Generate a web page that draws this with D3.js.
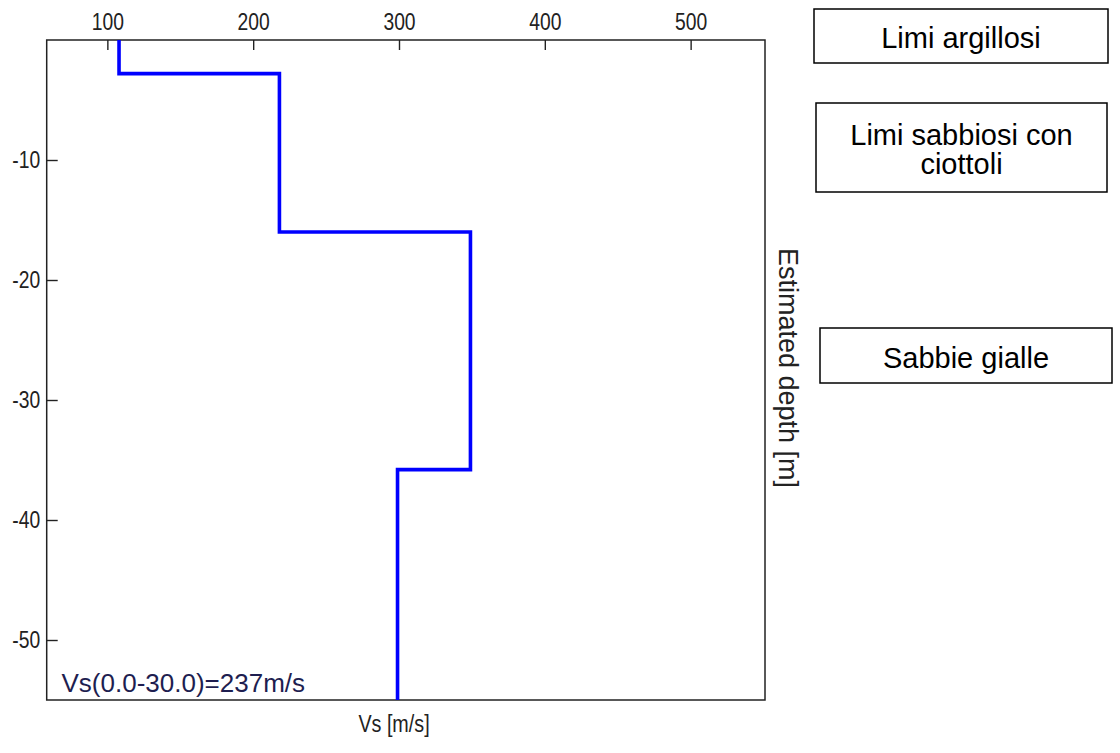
<!DOCTYPE html>
<html>
<head>
<meta charset="utf-8">
<script src="https://cdn.jsdelivr.net/npm/d3@7"></script>
<style>
  html, body { margin: 0; padding: 0; background: #fff; }
  svg { display: block; }
  .tick text { font-family: "Liberation Sans", Arial, sans-serif; font-size: 23px; fill: #222; }
</style>
</head>
<body>
<svg id="chart" width="1120" height="753"></svg>
<script>
// Data
const layerTops    = [0, -2.8, -16, -35.8];
const layerBottoms = [-2.8, -16, -35.8, -55];
const layerVs      = [108, 218, 349, 299];
const xTickValues  = [100, 200, 300, 400, 500];
const yTickValues  = [-10, -20, -30, -40, -50];
const xDomain      = [58.4, 551];
const yDomain      = [0, -55];
const lithoLabels  = [["Limi argillosi"], ["Limi sabbiosi con", "ciottoli"], ["Sabbie gialle"]];
const vs30Label    = "Vs(0.0-30.0)=237m/s";
const xTitle       = "Vs [m/s]";
const yTitle       = "Estimated depth [m]";

const svg = d3.select("#chart");
const pLeft = 46.7, pRight = 765, pTop = 40, pBottom = 700;
const narrow = 0.84;

const x = d3.scaleLinear().domain(xDomain).range([pLeft, pRight]);
const y = d3.scaleLinear().domain(yDomain).range([pTop, pBottom]);

// Top axis
const xAxis = svg.append("g")
  .attr("transform", `translate(0,${pTop})`)
  .call(d3.axisTop(x).tickValues(xTickValues).tickFormat(d => String(d))
    .tickSizeInner(-10).tickSizeOuter(0).tickPadding(10.5));
xAxis.select(".domain").remove();
xAxis.selectAll(".tick line").attr("stroke", "#222").attr("stroke-width", 1.4);
xAxis.selectAll(".tick text").attr("transform", `scale(${narrow},1)`);

// Left axis
const yPad = 6.5;
const yAxis = svg.append("g")
  .attr("transform", `translate(${pLeft},0)`)
  .call(d3.axisLeft(y).tickValues(yTickValues).tickFormat(d => String(d))
    .tickSizeInner(-11).tickSizeOuter(0).tickPadding(yPad));
yAxis.select(".domain").remove();
yAxis.selectAll(".tick line").attr("stroke", "#222").attr("stroke-width", 1.4);
yAxis.selectAll(".tick text")
  .attr("x", -yPad / narrow)
  .attr("transform", `scale(${narrow},1)`);

// Frame
svg.append("rect")
  .attr("x", pLeft).attr("y", pTop)
  .attr("width", pRight - pLeft).attr("height", pBottom - pTop)
  .attr("fill", "none").attr("stroke", "#222").attr("stroke-width", 1.5);

// Step profile
const pts = [];
layerVs.forEach((v, i) => {
  pts.push([v, layerTops[i]]);
  pts.push([v, layerBottoms[i]]);
});
svg.append("path")
  .datum(pts)
  .attr("fill", "none")
  .attr("stroke", "#0000ff")
  .attr("stroke-width", 3.6)
  .attr("stroke-linejoin", "miter")
  .attr("d", d3.line().x(d => x(d[0])).y(d => y(d[1])));

// Vs30 label
svg.append("text")
  .attr("x", 61.5).attr("y", 691.5)
  .attr("font-family", "Liberation Sans, Arial, sans-serif")
  .attr("font-size", 26)
  .attr("fill", "#1e1e50")
  .text(vs30Label);

// X title
svg.append("text")
  .attr("transform", `translate(394,732) scale(${narrow},1)`)
  .attr("text-anchor", "middle")
  .attr("font-family", "Liberation Sans, Arial, sans-serif")
  .attr("font-size", 23.5)
  .attr("fill", "#222")
  .text(xTitle);

// Y title (right, rotated clockwise)
svg.append("text")
  .attr("transform", `translate(779,368) rotate(90)`)
  .attr("text-anchor", "middle")
  .attr("font-family", "Liberation Sans, Arial, sans-serif")
  .attr("font-size", 27)
  .attr("fill", "#222")
  .text(yTitle);

// Lithology boxes
const boxes = [
  {x0: 814, y0: 9, x1: 1108, y1: 63},
  {x0: 816, y0: 103, x1: 1107, y1: 192},
  {x0: 820, y0: 328, x1: 1112, y1: 383}
];
const lineH = 29, fs = 29;
boxes.forEach((b, i) => {
  svg.append("rect")
    .attr("x", b.x0).attr("y", b.y0)
    .attr("width", b.x1 - b.x0).attr("height", b.y1 - b.y0)
    .attr("fill", "#fff").attr("stroke", "#000").attr("stroke-width", 1.5);
  const lines = lithoLabels[i];
  const cx = (b.x0 + b.x1) / 2, cy = (b.y0 + b.y1) / 2;
  const firstBase = cy - (lines.length - 1) * lineH / 2 + 12;
  const t = svg.append("text")
    .attr("x", cx).attr("y", firstBase)
    .attr("text-anchor", "middle")
    .attr("font-family", "Liberation Sans, Arial, sans-serif")
    .attr("font-size", fs)
    .attr("fill", "#000");
  lines.forEach((s, j) => {
    t.append("tspan").attr("x", cx).attr("dy", j === 0 ? 0 : lineH).text(s);
  });
});
</script>
</body>
</html>
